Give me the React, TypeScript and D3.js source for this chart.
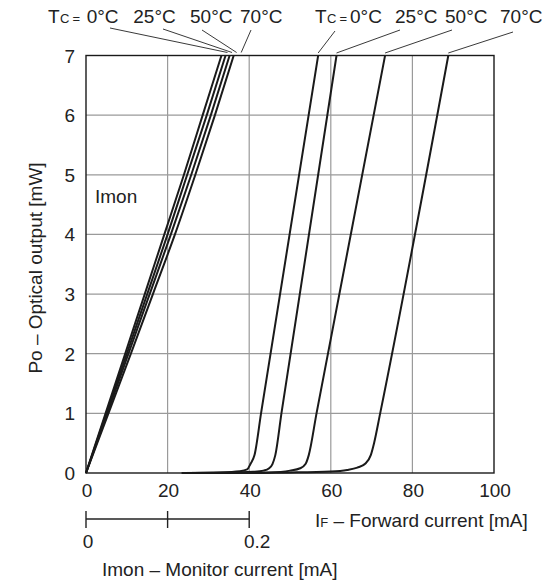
import React from 'react';
import * as d3 from 'd3';

// Tc curves: forward current IF [mA] vs optical output Po [mW]
const ifTc0 = [23.5, 33, 37.7, 39.5, 40.3, 41.3, 42.9, 56.9];
const poTc0 = [0, 0.01, 0.03, 0.06, 0.15, 0.3, 1, 7];
const ifTc25 = [23.5, 35, 41, 43.5, 44.9, 45.7, 46.4, 47.9, 61.4];
const poTc25 = [0, 0.005, 0.02, 0.04, 0.08, 0.15, 0.3, 1, 7];
const ifTc50 = [23.5, 40, 45, 50, 52.5, 53.8, 54.6, 56.5, 73.3];
const poTc50 = [0, 0.005, 0.01, 0.04, 0.08, 0.15, 0.3, 1, 7];
const ifTc70 = [23.5, 40, 50, 60, 64, 66.5, 68.5, 69.8, 70.6, 72.1, 88.8];
const poTc70 = [0, 0.005, 0.01, 0.025, 0.05, 0.09, 0.16, 0.3, 0.5, 1, 7];

// Imon curves: monitor current [mA] at each Po level
const poLevels = [0, 1, 2, 3, 4, 5, 6, 7];
const imonTc0 = [0, 0.024, 0.048, 0.072, 0.096, 0.12, 0.143, 0.166];
const imonTc25 = [0, 0.025, 0.05, 0.075, 0.1, 0.124, 0.148, 0.171];
const imonTc50 = [0, 0.026, 0.052, 0.078, 0.104, 0.129, 0.153, 0.176];
const imonTc70 = [0, 0.0275, 0.055, 0.082, 0.109, 0.134, 0.158, 0.181];

const tempLabels = ['0°C', '25°C', '50°C', '70°C'];
const xTicks = [0, 20, 40, 60, 80, 100];
const yTicks = [0, 1, 2, 3, 4, 5, 6, 7];
const imonTicks = [0, 0.1, 0.2];
const imonTickLabels = ['0', '', '0.2'];

const W = 545;
const H = 587;
const FONT = '"Liberation Sans", Arial, Helvetica, sans-serif';
const FS = 19;

const App: React.FC = () => {
  const x = d3.scaleLinear().domain([0, 100]).range([86, 494]);
  const y = d3.scaleLinear().domain([0, 7]).range([473, 55.5]);
  const xi = d3.scaleLinear().domain([0, 0.2]).range([x(0), x(40)]);

  const ifCurves = [
    { i: ifTc0, p: poTc0 },
    { i: ifTc25, p: poTc25 },
    { i: ifTc50, p: poTc50 },
    { i: ifTc70, p: poTc70 },
  ];
  const imonCurves = [imonTc0, imonTc25, imonTc50, imonTc70];

  const line = d3
    .line<[number, number]>()
    .x(d => x(d[0]))
    .y(d => y(d[1]))
    .curve(d3.curveMonotoneX);

  const imonLine = d3
    .line<[number, number]>()
    .x(d => xi(d[0]))
    .y(d => y(d[1]))
    .curve(d3.curveMonotoneY);

  // label layout
  const leftLabelX = [86.7, 133.3, 190, 240];
  const rightLabelX = [350, 395, 445, 500];
  const leftLeadStart = [[110, 28], [163, 29], [202, 30], [251, 30]];
  const rightLeadStart = [[335, 31], [400, 30], [452, 30], [513, 32]];
  const leftLeadEnd = imonCurves.map((c, k) => [xi(c[c.length - 1]) + 6 + k * 0.5, 52.5]);
  const rightLeadEnd = ifCurves.map(c => [x(c.i[c.i.length - 1]), 53]);

  const gridColor = '#9a9a9a';

  return (
    <svg
      width={W}
      height={H}
      style={{ position: 'absolute', left: 0, top: 0, background: '#fff' }}
      fontFamily={FONT}
    >
      {/* grid */}
      {xTicks.slice(1, -1).map(t => (
        <line key={'gx' + t} x1={x(t)} x2={x(t)} y1={y(0)} y2={y(7)} stroke={gridColor} strokeWidth={1.2} />
      ))}
      {yTicks.slice(1, -1).map(t => (
        <line key={'gy' + t} x1={x(0)} x2={x(100)} y1={y(t)} y2={y(t)} stroke={gridColor} strokeWidth={1.2} />
      ))}
      <rect x={x(0)} y={y(7)} width={x(100) - x(0)} height={y(0) - y(7)} fill="none" stroke="#1a1a1a" strokeWidth={1.4} />

      {/* IF curves */}
      {ifCurves.map((c, k) => (
        <path
          key={'if' + k}
          d={line(c.i.map((v, j) => [v, c.p[j]] as [number, number])) || ''}
          fill="none"
          stroke="#1a1a1a"
          strokeWidth={2}
        />
      ))}
      {/* Imon curves */}
      {imonCurves.map((c, k) => (
        <path
          key={'im' + k}
          d={imonLine(c.map((v, j) => [v, poLevels[j]] as [number, number])) || ''}
          fill="none"
          stroke="#1a1a1a"
          strokeWidth={2}
        />
      ))}

      {/* y tick labels */}
      {yTicks.map(t => (
        <text key={'yt' + t} x={75} y={y(t) + 7} textAnchor="end" fontSize={FS} fill="#222">
          {t}
        </text>
      ))}
      {/* x tick labels */}
      {xTicks.map(t => (
        <text key={'xt' + t} x={x(t) + 1} y={497} textAnchor="middle" fontSize={FS} fill="#222">
          {t}
        </text>
      ))}

      {/* monitor current axis */}
      <line x1={xi(0)} x2={xi(0.2)} y1={519} y2={519} stroke="#222" strokeWidth={1.4} />
      {imonTicks.map(t => (
        <line key={'it' + t} x1={xi(t)} x2={xi(t)} y1={511} y2={528} stroke="#222" strokeWidth={1.4} />
      ))}
      {imonTicks.map((t, k) =>
        imonTickLabels[k] ? (
          <text key={'itl' + t} x={xi(t) + (t > 0 ? 8 : 2)} y={548} textAnchor="middle" fontSize={FS} fill="#222">
            {imonTickLabels[k]}
          </text>
        ) : null
      )}

      {/* axis titles */}
      <text x={102} y={576} fontSize={FS} fill="#222">Imon – Monitor current [mA]</text>
      <text x={315} y={527} fontSize={FS} fill="#222">
        I<tspan fontSize={13}>F</tspan> – Forward current [mA]
      </text>
      <text
        transform={`translate(42, 268) rotate(-90)`}
        textAnchor="middle"
        fontSize={FS}
        fill="#222"
      >
        Po – Optical output [mW]
      </text>
      <text x={95} y={203} fontSize={FS} fill="#222">Imon</text>

      {/* Tc labels, left group (Imon) */}
      <text x={48} y={23} fontSize={FS} fill="#222">T</text>
      <text x={60} y={23} fontSize={13} fill="#222">C</text>
      <text x={72.5} y={23} fontSize={13} fill="#222">=</text>
      {tempLabels.map((l, k) => (
        <text key={'ll' + k} x={leftLabelX[k]} y={23} fontSize={FS} fill="#222">{l}</text>
      ))}
      {/* Tc labels, right group (IF) */}
      <text x={315} y={23} fontSize={FS} fill="#222">T</text>
      <text x={327} y={23} fontSize={13} fill="#222">C</text>
      <text x={339.5} y={23} fontSize={13} fill="#222">=</text>
      {tempLabels.map((l, k) => (
        <text key={'rl' + k} x={rightLabelX[k]} y={23} fontSize={FS} fill="#222">{l}</text>
      ))}

      {/* leader lines */}
      {leftLeadStart.map((s, k) => (
        <line key={'lld' + k} x1={s[0]} y1={s[1]} x2={leftLeadEnd[k][0]} y2={leftLeadEnd[k][1]} stroke="#222" strokeWidth={0.9} />
      ))}
      {rightLeadStart.map((s, k) => (
        <line key={'rld' + k} x1={s[0]} y1={s[1]} x2={rightLeadEnd[k][0]} y2={rightLeadEnd[k][1]} stroke="#222" strokeWidth={0.9} />
      ))}
    </svg>
  );
};

export default App;
